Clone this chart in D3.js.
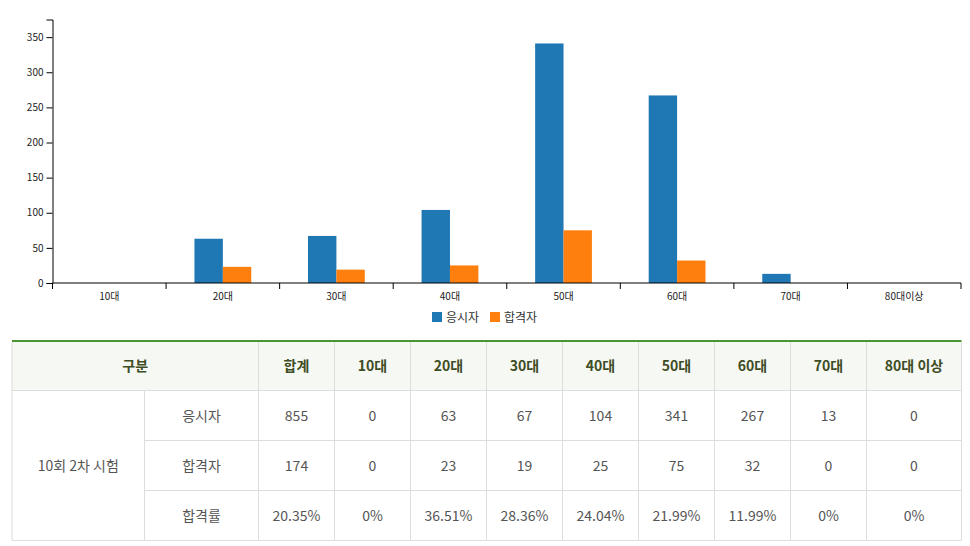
<!DOCTYPE html>
<html>
<head>
<meta charset="utf-8">
<script src="https://cdn.jsdelivr.net/npm/d3@7"></script>
<style>
  body { margin: 0; background: #fff; }
  svg { display: block; }
  .tick text { font-family: "Noto Sans CJK KR", "Noto Sans", sans-serif; font-size: 10px; fill: #222; }
</style>
</head>
<body>
<div id="my_dataviz"></div>
<script>
// chart data
var ageGroups = ["10대", "20대", "30대", "40대", "50대", "60대", "70대", "80대이상"];
var seriesNames = ["응시자", "합격자"];
var applicants = [0, 63, 67, 104, 341, 267, 13, 0];
var passers = [0, 23, 19, 25, 75, 32, 0, 0];
var yTicks = [0, 50, 100, 150, 200, 250, 300, 350];
var colors = ["#1f77b4", "#ff7f0e"];

// table data
var tableHead = ["구분", "합계", "10대", "20대", "30대", "40대", "50대", "60대", "70대", "80대 이상"];
var roundLabel = "10회 2차 시험";
var rowLabels = ["응시자", "합격자", "합격률"];
var rowTotals = ["855", "174", "20.35%"];
var passRates = ["0%", "36.51%", "28.36%", "24.04%", "21.99%", "11.99%", "0%", "0%"];

var W = 970, H = 546;
var svg = d3.select("#my_dataviz").append("svg")
    .attr("width", W).attr("height", H);

var margin = {top: 19.5, left: 52.5, right: 9, bottom: 263};
var chartBottom = 283;

var x = d3.scaleBand()
    .domain(ageGroups)
    .range([margin.left, W - margin.right]);

var y = d3.scaleLinear()
    .domain([0, d3.max(applicants) * 1.1])
    .range([chartBottom, margin.top]);

var barW = x.bandwidth() * 0.25;

// x axis: ticks on band edges, labels at centers
var gx = svg.append("g").attr("transform", "translate(0," + chartBottom + ")");
gx.append("line")
    .attr("x1", x.range()[0]).attr("x2", x.range()[1])
    .attr("stroke", "#000");
var edges = ageGroups.map(function(d){ return x(d); }).concat([x.range()[1]]);
gx.selectAll(".edge").data(edges).enter().append("line")
    .attr("x1", function(d){ return d; }).attr("x2", function(d){ return d; })
    .attr("y1", 0).attr("y2", 6).attr("stroke", "#000");
gx.selectAll(".lbl").data(ageGroups).enter().append("text")
    .attr("x", function(d){ return x(d) + x.bandwidth() / 2; })
    .attr("y", 17)
    .attr("text-anchor", "middle")
    .style("font-family", '"Noto Sans CJK KR", sans-serif')
    .style("font-size", "10px")
    .attr("fill", "#222")
    .text(function(d){ return d; });

// y axis
svg.append("g")
    .attr("transform", "translate(" + margin.left + ",0)")
    .call(d3.axisLeft(y).tickValues(yTicks).tickSize(6).tickSizeOuter(6))
    .call(function(g){ g.select(".domain").attr("stroke", "#000"); });

// bars
var series = [applicants, passers];
series.forEach(function(vals, si){
  svg.append("g").selectAll("rect").data(vals).enter().append("rect")
      .attr("x", function(d, i){ return x(ageGroups[i]) + x.bandwidth() / 2 - barW + si * barW; })
      .attr("y", function(d){ return y(d); })
      .attr("width", barW)
      .attr("height", function(d){ return chartBottom - y(d); })
      .attr("fill", colors[si]);
});
// redraw x axis baseline over bars
gx.raise();

// legend
var legend = svg.append("g").attr("transform", "translate(432,312)");
var lx = [0, 58];
seriesNames.forEach(function(name, i){
  legend.append("rect").attr("x", lx[i]).attr("y", 0)
      .attr("width", 10).attr("height", 10).attr("fill", colors[i]);
  legend.append("text").attr("x", lx[i] + 14).attr("y", 9.5)
      .style("font-family", '"Noto Sans CJK KR", sans-serif')
      .style("font-size", "12px").attr("fill", "#333")
      .text(name);
});

// table
var colX = [12, 144.5, 258.5, 334.5, 410.5, 486.5, 562.5, 638.5, 714.5, 790.5, 866.5, 961.5];
var rowY = [342, 390.5, 440.5, 490.5, 540.5];
var border = "#dddddd";
var tbl = svg.append("g");
var fontT = '"Noto Sans CJK KR", "Noto Sans", sans-serif';

// header background
tbl.append("rect").attr("x", colX[0]).attr("y", rowY[0])
    .attr("width", colX[11] - colX[0]).attr("height", rowY[1] - rowY[0])
    .attr("fill", "#f6f8f4");

// header cells: 구분 spans first two columns
var headCells = [{t: tableHead[0], x0: colX[0], x1: colX[2]}];
for (var c = 1; c < tableHead.length; c++) {
  headCells.push({t: tableHead[c], x0: colX[c + 1], x1: colX[c + 2]});
}
tbl.selectAll(".hd").data(headCells).enter().append("text")
    .attr("x", function(d){ return (d.x0 + d.x1) / 2; })
    .attr("y", (rowY[0] + rowY[1]) / 2 + 5)
    .attr("text-anchor", "middle")
    .style("font-family", fontT).style("font-size", "14px").style("font-weight", "bold")
    .attr("fill", "#3e4d24")
    .text(function(d){ return d.t; });

// body cells
var bodyRows = [
  [rowLabels[0], rowTotals[0]].concat(applicants.map(String)),
  [rowLabels[1], rowTotals[1]].concat(passers.map(String)),
  [rowLabels[2], rowTotals[2]].concat(passRates)
];
bodyRows.forEach(function(row, r){
  tbl.selectAll(".r" + r).data(row).enter().append("text")
      .attr("x", function(d, i){ return (colX[i + 1] + colX[i + 2]) / 2; })
      .attr("y", (rowY[r + 1] + rowY[r + 2]) / 2 + 5)
      .attr("text-anchor", "middle")
      .style("font-family", fontT).style("font-size", "14px")
      .attr("fill", "#555")
      .text(function(d){ return d; });
});
tbl.append("text")
    .attr("x", (colX[0] + colX[1]) / 2)
    .attr("y", (rowY[1] + rowY[4]) / 2 + 5)
    .attr("text-anchor", "middle")
    .style("font-family", fontT).style("font-size", "14px")
    .attr("fill", "#555")
    .text(roundLabel);

// grid lines
// horizontal
tbl.append("line").attr("x1", colX[0]).attr("x2", colX[11])
    .attr("y1", rowY[1]).attr("y2", rowY[1]).attr("stroke", border);
[2, 3].forEach(function(r){
  tbl.append("line").attr("x1", colX[1]).attr("x2", colX[11])
      .attr("y1", rowY[r]).attr("y2", rowY[r]).attr("stroke", border);
});
tbl.append("line").attr("x1", colX[0]).attr("x2", colX[11])
    .attr("y1", rowY[4]).attr("y2", rowY[4]).attr("stroke", border);
// vertical
tbl.append("line").attr("x1", colX[0]).attr("x2", colX[0])
    .attr("y1", rowY[0]).attr("y2", rowY[4]).attr("stroke", border);
tbl.append("line").attr("x1", colX[1]).attr("x2", colX[1])
    .attr("y1", rowY[1]).attr("y2", rowY[4]).attr("stroke", border);
for (var k = 2; k < colX.length; k++) {
  tbl.append("line").attr("x1", colX[k]).attr("x2", colX[k])
      .attr("y1", rowY[0]).attr("y2", rowY[4]).attr("stroke", border);
}
// green top border
tbl.append("rect").attr("x", colX[0]).attr("y", 340)
    .attr("width", colX[11] - colX[0]).attr("height", 2)
    .attr("fill", "#4b9632");
</script>
</body>
</html>
